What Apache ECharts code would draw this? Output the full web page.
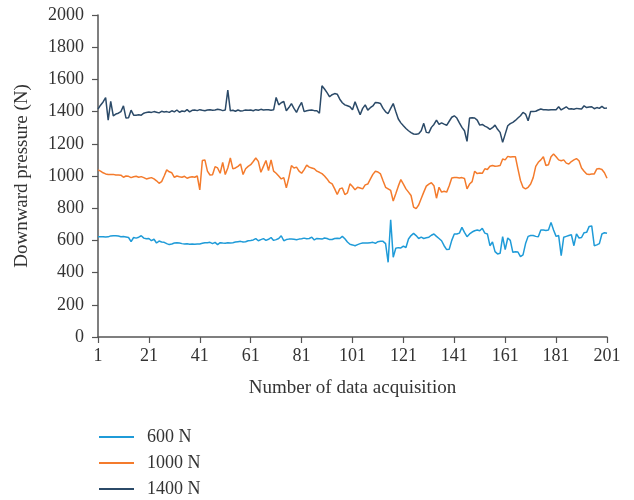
<!DOCTYPE html>
<html>
<head>
<meta charset="utf-8">
<script src="https://cdn.jsdelivr.net/npm/echarts@6/dist/echarts.min.js"></script>
<style>html,body{margin:0;padding:0;background:#fff}#c{width:634px;height:500px}</style>
</head>
<body>
<div id="c"></div>
<script>
// Data acquisition numbers 1..201
const categories = [];
for (let i = 1; i <= 201; i++) categories.push(String(i));

const seriesNames = ['600 N', '1000 N', '1400 N'];

const s600 = [
 623,622,623,621,622,628,629,629,627,623,
 624,621,618,592,618,614,620,629,614,610,
 612,598,607,584,596,590,588,580,574,578,
 584,585,584,580,578,579,576,578,576,578,
 578,582,586,585,588,580,588,574,586,584,
 583,585,584,586,590,592,594,590,592,598,
 600,603,611,598,605,611,600,607,618,600,
 605,612,629,598,605,608,608,607,604,608,
 610,614,610,612,620,603,612,610,608,615,
 612,605,606,612,613,612,625,610,590,576,
 572,567,574,580,584,584,584,586,588,582,
 592,595,594,580,464,728,495,551,555,553,
 565,556,609,630,644,630,612,620,612,616,
 620,632,640,625,612,598,567,543,545,600,
 640,640,645,681,650,623,640,652,660,664,
 660,675,645,640,567,590,530,516,520,623,
 543,615,600,526,530,528,499,510,580,625,
 630,630,625,622,664,664,662,664,712,665,
 625,630,505,620,625,630,635,567,640,615,
 618,648,650,687,690,567,572,580,640,648,
 644
];

const s1000 = [
 1038,1030,1020,1013,1010,1009,1010,1006,1006,1005,
 992,1000,998,990,995,998,992,996,990,982,
 986,990,982,970,955,965,1000,1038,1026,1020,
 992,1000,995,992,998,986,992,995,992,1000,
 914,1096,1100,1030,1006,1008,1058,1050,1017,1085,
 1009,1050,1112,1044,1050,1060,1075,1009,1045,1060,
 1070,1090,1112,1091,1023,1060,1096,1034,1100,1030,
 1017,1000,982,990,926,990,1065,1050,1055,1030,
 1017,1040,1067,1055,1050,1045,1030,1023,1015,1000,
 982,960,951,920,885,920,926,885,895,951,
 935,914,930,925,920,945,950,980,1010,1030,
 1025,1013,970,930,920,910,844,890,937,978,
 950,920,900,879,807,797,820,860,900,937,
 950,958,940,862,930,900,905,900,940,988,
 990,990,988,990,985,920,950,965,1030,1015,
 1018,1017,1045,1040,1060,1065,1060,1062,1065,1106,
 1100,1122,1118,1120,1120,1044,972,930,920,930,
 950,990,1060,1085,1100,1120,1065,1070,1120,1137,
 1120,1100,1095,1100,1080,1075,1090,1100,1108,1095,
 1050,1030,1013,1010,1012,1013,1044,1046,1040,1020,
 986
];

const s1400 = [
 1416,1440,1460,1487,1347,1463,1374,1385,1390,1400,
 1436,1360,1362,1409,1378,1378,1380,1378,1390,1395,
 1398,1395,1400,1396,1392,1402,1398,1400,1395,1405,
 1398,1410,1396,1404,1400,1412,1398,1408,1410,1406,
 1412,1408,1405,1410,1412,1408,1410,1414,1412,1406,
 1410,1533,1405,1408,1402,1410,1404,1406,1410,1408,
 1410,1405,1412,1408,1414,1410,1411,1412,1408,1411,
 1488,1442,1455,1463,1405,1425,1450,1420,1395,1430,
 1457,1400,1405,1408,1410,1406,1405,1390,1560,1540,
 1518,1492,1505,1512,1508,1477,1455,1442,1436,1430,
 1411,1461,1420,1380,1420,1442,1409,1424,1435,1457,
 1455,1450,1420,1399,1388,1420,1450,1400,1354,1330,
 1312,1295,1281,1270,1261,1260,1262,1281,1327,1271,
 1268,1302,1320,1347,1320,1330,1322,1315,1340,1365,
 1374,1360,1330,1302,1281,1215,1360,1362,1360,1347,
 1316,1320,1310,1302,1290,1300,1316,1290,1271,1209,
 1260,1312,1325,1333,1345,1360,1374,1395,1385,1343,
 1401,1401,1402,1410,1416,1412,1411,1410,1412,1411,
 1411,1430,1410,1420,1430,1416,1418,1415,1420,1418,
 1416,1436,1425,1428,1430,1418,1425,1420,1432,1420,
 1422
];

const yTicks = [0,200,400,600,800,1000,1200,1400,1600,1800,2000];
const colors = ['#1f9bd8', '#f47b2c', '#2b4a68'];

const FONT = "'Liberation Serif', 'DejaVu Serif', serif";
const chart = echarts.init(document.getElementById('c'), null, {renderer: 'canvas'});

chart.setOption({
  animation: false,
  backgroundColor: '#ffffff',
  color: colors,
  grid: {left: 98, right: 27, top: 15, bottom: 163, containLabel: false},
  legend: {
    orient: 'vertical',
    left: 99,
    top: 428,
    height: 72,
    padding: 0,
    itemWidth: 35,
    itemHeight: 2,
    itemGap: 8,
    icon: 'rect',
    data: seriesNames,
    textStyle: {fontFamily: FONT, fontSize: 18, color: '#333', padding: [0, 0, 0, 8], lineHeight: 18}
  },
  xAxis: {
    type: 'category',
    data: categories,
    boundaryGap: false,
    name: 'Number of data acquisition',
    nameLocation: 'middle',
    nameGap: 42,
    nameTextStyle: {fontFamily: FONT, fontSize: 19, color: '#333'},
    axisLine: {show: true, lineStyle: {color: '#555', width: 1.5}},
    axisTick: {show: true, interval: 19, length: 6, inside: false, lineStyle: {color: '#555', width: 1.2}},
    axisLabel: {interval: 19, fontFamily: FONT, fontSize: 18, color: '#333', margin: 10},
    splitLine: {show: false}
  },
  yAxis: {
    type: 'value',
    min: yTicks[0],
    max: yTicks[yTicks.length - 1],
    interval: 200,
    name: 'Downward pressure (N)',
    nameLocation: 'middle',
    nameGap: 66,
    nameRotate: 90,
    nameTextStyle: {fontFamily: FONT, fontSize: 19, color: '#333'},
    axisLine: {show: true, lineStyle: {color: '#555', width: 1.5}},
    axisTick: {show: true, length: 6, inside: false, lineStyle: {color: '#555', width: 1.2}},
    axisLabel: {fontFamily: FONT, fontSize: 18, color: '#333', margin: 14, formatter: function (v) { return String(v); }},
    splitLine: {show: false}
  },
  series: [
    {name: seriesNames[0], type: 'line', data: s600, symbol: 'none', lineStyle: {width: 1.5, color: colors[0]}, itemStyle: {color: colors[0]}},
    {name: seriesNames[1], type: 'line', data: s1000, symbol: 'none', lineStyle: {width: 1.5, color: colors[1]}, itemStyle: {color: colors[1]}},
    {name: seriesNames[2], type: 'line', data: s1400, symbol: 'none', lineStyle: {width: 1.5, color: colors[2]}, itemStyle: {color: colors[2]}}
  ]
});
</script>
</body>
</html>
